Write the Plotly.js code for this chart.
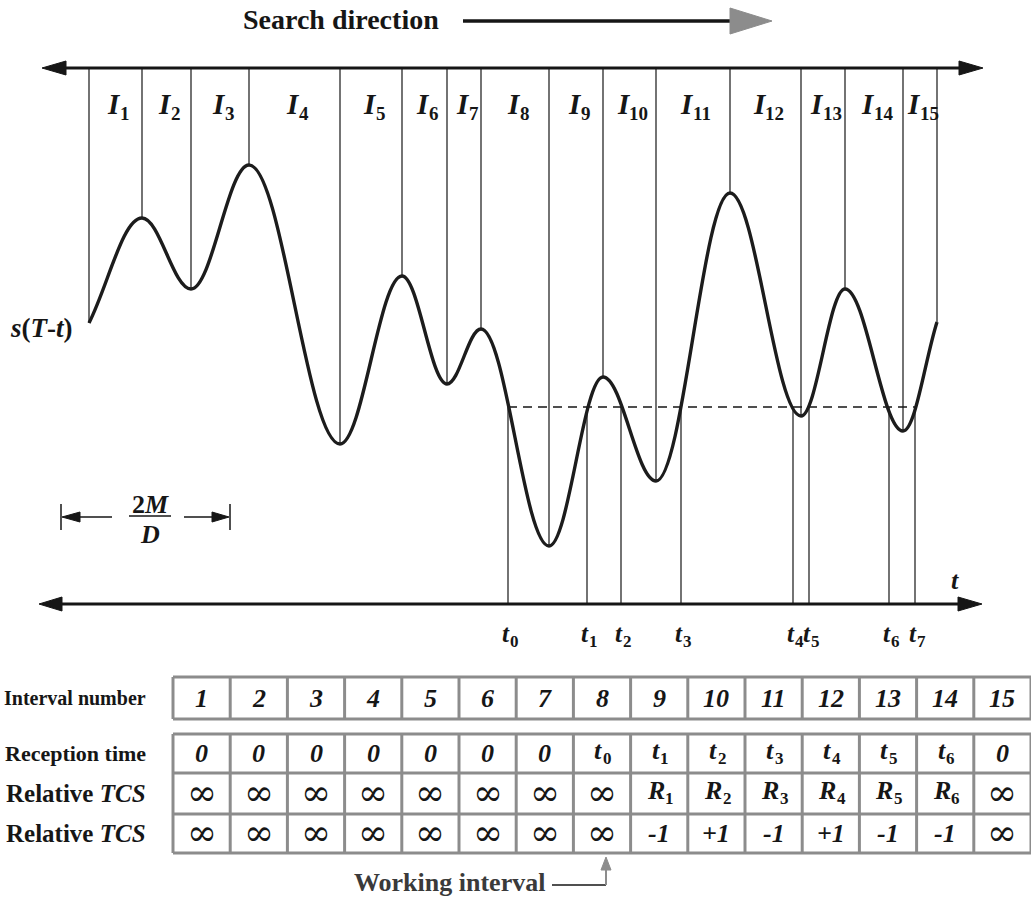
<!DOCTYPE html>
<html><head><meta charset="utf-8">
<script src="https://cdn.plot.ly/plotly-3.0.1.min.js"></script>
<style>html,body{margin:0;padding:0;background:#fff}#chart{width:1031px;height:897px}</style>
</head><body><div id="chart"></div>
<script>
// ---- data ----
// local extrema of s(T-t): time (t units) and amplitude; interval edges sit on them
const extremaTime  = [89, 142, 191, 249, 340, 402, 447, 481, 549, 603, 656, 730, 801, 845, 903, 937];
const extremaValue = [281, 386, 315, 439, 160, 328, 220, 275, 58, 227, 123, 411, 188, 315, 173, 282];
const intervalLabels = ['1','2','3','4','5','6','7','8','9','10','11','12','13','14','15'];
const thresholdLevel = 197;
const crossingTimes  = [508, 587, 621, 681, 793, 809, 889, 915];
const crossingLabels = ['0','1','2','3','4','5','6','7'];
// table
const rowLabels = ['Interval number', 'Reception time', 'Relative TCS', 'Relative TCS'];
const intervalNumbers = ['1','2','3','4','5','6','7','8','9','10','11','12','13','14','15'];
const receptionTime   = ['0','0','0','0','0','0','0','t0','t1','t2','t3','t4','t5','t6','0'];
const relativeTCS     = ['∞','∞','∞','∞','∞','∞','∞','∞','R1','R2','R3','R4','R5','R6','∞'];
const relativeSign    = ['∞','∞','∞','∞','∞','∞','∞','∞','-1','+1','-1','+1','-1','-1','∞'];
const workingInterval = 8;

// ---- layout helpers (page pixel -> axis units; axis is 1 unit per pixel) ----
const BASE = 604;                 // t-axis row in the page
const yp = py => BASE - py;
const FONT = 'Liberation Serif, Times New Roman, serif';
const INK = '#161616';
const GREY = '#8c8c8c';
const topLevel = yp(68);

const shapes = [];
const ann = [];
function seg(x0, y0, x1, y1, color, width, dash) {
  shapes.push({type:'line', xref:'x', yref:'y', x0, y0, x1, y1, line:{color, width, dash: dash || 'solid'}});
}
function htri(tipX, tipY, baseX, half, color) {
  shapes.push({type:'path', xref:'x', yref:'y',
    path:`M${tipX},${tipY} L${baseX},${tipY+half} L${baseX},${tipY-half} Z`,
    fillcolor: color, line:{color, width:1}});
}
function vtri(tipX, tipY, baseY, half, color) {
  shapes.push({type:'path', xref:'x', yref:'y',
    path:`M${tipX},${tipY} L${tipX-half},${baseY} L${tipX+half},${baseY} Z`,
    fillcolor: color, line:{color, width:1}});
}
function text(x, y, t, size, opts, family, color) {
  ann.push(Object.assign({x, y, xref:'x', yref:'y', text:t, showarrow:false, borderpad:0,
    font:{family:family || FONT, size, color:color || INK}, xanchor:'center', yanchor:'middle'}, opts || {}));
}
// italic letter with an upright subscript, centred on (cx, pageY)
const GLYPH_W = {I:0.389, t:0.278, R:0.667};
function subLabel(cx, pageY, main, sub, size, subSize, color) {
  const wMain = GLYPH_W[main] * size + 1.5;
  const wSub = sub.length * 0.5 * subSize;
  const x0 = cx - (wMain + wSub) / 2;
  text(x0, yp(pageY), `<b><i>${main}</i></b>`, size, {xanchor:'left'}, null, color);
  text(x0 + wMain, yp(pageY + 0.32*size), `<b>${sub}</b>`, subSize, {xanchor:'left'}, null, color);
}

// ---- curve s(T-t): cubic pieces with flat tangents at the extrema ----
const K = 0.363;
let path = `M${extremaTime[0]},${extremaValue[0]}`;
for (let i = 0; i < extremaTime.length - 1; i++) {
  const x0 = extremaTime[i], y0 = extremaValue[i], x1 = extremaTime[i+1], y1 = extremaValue[i+1];
  const dx = x1 - x0, dy = y1 - y0;
  const c1 = i === 0 ? [x0 + K*dx, y0 + K*dy] : [x0 + K*dx, y0];
  const c2 = i === extremaTime.length - 2 ? [x1 - K*dx, y1 - K*dy] : [x1 - K*dx, y1];
  path += ` C${c1[0]},${c1[1]} ${c2[0]},${c2[1]} ${x1},${y1}`;
}
const curveShape = {type:'path', xref:'x', yref:'y', path, line:{color:'#1c1c1c', width:3.4}, layer:'above'};

// ---- traces: interval edges, crossing lines, threshold ----
const edgeX = [], edgeY = [];
extremaTime.forEach((t, i) => { edgeX.push(t, t, null); edgeY.push(topLevel, extremaValue[i], null); });
const crossX = [], crossY = [];
crossingTimes.forEach(t => { crossX.push(t, t, null); crossY.push(thresholdLevel, 0, null); });

const traces = [
  {type:'scatter', mode:'lines', x:edgeX, y:edgeY, line:{color:INK, width:1.2}, hoverinfo:'skip'},
  {type:'scatter', mode:'lines', x:crossX, y:crossY, line:{color:INK, width:1.2}, hoverinfo:'skip'},
  {type:'scatter', mode:'lines', x:[crossingTimes[0], crossingTimes[crossingTimes.length-1]],
   y:[thresholdLevel, thresholdLevel], line:{color:INK, width:1.6, dash:'9px,6px'}, hoverinfo:'skip'}
];

// ---- axes arrows ----
seg(60, topLevel, 962, topLevel, INK, 3);
htri(42, topLevel, 66, 7, INK);
htri(983, topLevel, 959, 7, INK);
seg(58, 0, 962, 0, INK, 3);
htri(39, 0, 62, 7, INK);
htri(982, 0, 958, 7, INK);

// search direction arrow
text(341, yp(19), '<b>Search direction</b>', 28);
seg(463, yp(21), 735, yp(21), INK, 3.5);
htri(772, yp(21), 730, 13, GREY);

// interval labels
intervalLabels.forEach((lab, i) => {
  const c = (extremaTime[i] + extremaTime[i+1]) / 2;
  subLabel(c + 2, 104, 'I', lab, 29, 19);
});

// crossing labels
crossingTimes.forEach((t, i) => {
  subLabel(t + 1, 633, 't', crossingLabels[i], 25, 17);
});
text(955, yp(580), '<b><i>t</i></b>', 26);

// s(T-t)
text(41, yp(328), '<b><i>s</i>(<i>T</i>-<i>t</i>)</b>', 27);

// 2M/D span
text(150, yp(504), '<b>2<i>M</i></b>', 26);
seg(129, yp(516), 171, yp(516), INK, 1.3);
text(150, yp(534), '<b><i>D</i></b>', 26);
seg(61, yp(504), 61, yp(530), INK, 1.5);
seg(230, yp(504), 230, yp(530), INK, 1.5);
seg(75, yp(517), 112, yp(517), INK, 1.5);
htri(62, yp(517), 80, 5, INK);
seg(184, yp(517), 215, yp(517), INK, 1.5);
htri(229, yp(517), 212, 5, INK);

// ---- table ----
const TL = 173, CW = 57.2, NC = intervalNumbers.length, TR = TL + CW*NC;
const r1 = [677, 719];
const rows = [734, 773, 814, 853];
// borders
[r1[0], r1[1]].forEach(py => seg(TL, yp(py), TR, yp(py), GREY, 3));
rows.forEach(py => seg(TL, yp(py), TR, yp(py), GREY, 3));
for (let c = 0; c <= NC; c++) {
  const x = TL + c*CW;
  seg(x, yp(r1[0]), x, yp(r1[1]), GREY, 3);
  seg(x, yp(rows[0]), x, yp(rows[3]), GREY, 3);
}
// cells
const tableRows = [
  {vals:intervalNumbers, y:(r1[0]+r1[1])/2, labSize:20},
  {vals:receptionTime, y:(rows[0]+rows[1])/2, labSize:22},
  {vals:relativeTCS, y:(rows[1]+rows[2])/2, labSize:25},
  {vals:relativeSign, y:(rows[2]+rows[3])/2, labSize:25}
];
tableRows.forEach((row, ri) => {
  row.vals.forEach((v, c) => {
    const cx = TL + (c + 0.5)*CW;
    const m = v.match(/^([tR])(\d)$/);
    if (v === '∞') {
      text(cx, yp(row.y - 1), '∞', 36, null, 'DejaVu Serif, serif');
    } else if (m) {
      subLabel(cx, row.y - 3, m[1], m[2], 26, 17);
    } else {
      text(cx, yp(row.y), `<b><i>${v}</i></b>`, 26);
    }
  });
  const lab = rowLabels[ri].replace('TCS', '<i>TCS</i>');
  text(147, yp(row.y), `<b>${lab}</b>`, row.labSize, {xanchor:'right'});
});

// working interval pointer
const wx = TL + (workingInterval - 0.5)*CW + 4;
text(546, yp(882), '<b>Working interval</b>', 26, {xanchor:'right'}, null, '#3a3a3a');
seg(552, yp(885), wx, yp(885), INK, 1.5);
seg(wx, yp(885), wx, yp(868), GREY, 2);
vtri(wx, yp(857), yp(870), 5, GREY);

shapes.push(curveShape);

const layout = {
  width:1031, height:897, margin:{l:0, r:0, t:0, b:0},
  paper_bgcolor:'#ffffff', plot_bgcolor:'#ffffff', showlegend:false,
  xaxis:{range:[0, 1031], visible:false, fixedrange:true},
  yaxis:{range:[yp(897), yp(0)], visible:false, fixedrange:true},
  shapes, annotations:ann
};
Plotly.newPlot('chart', traces, layout, {staticPlot:true, displayModeBar:false});
</script>
</body></html>
